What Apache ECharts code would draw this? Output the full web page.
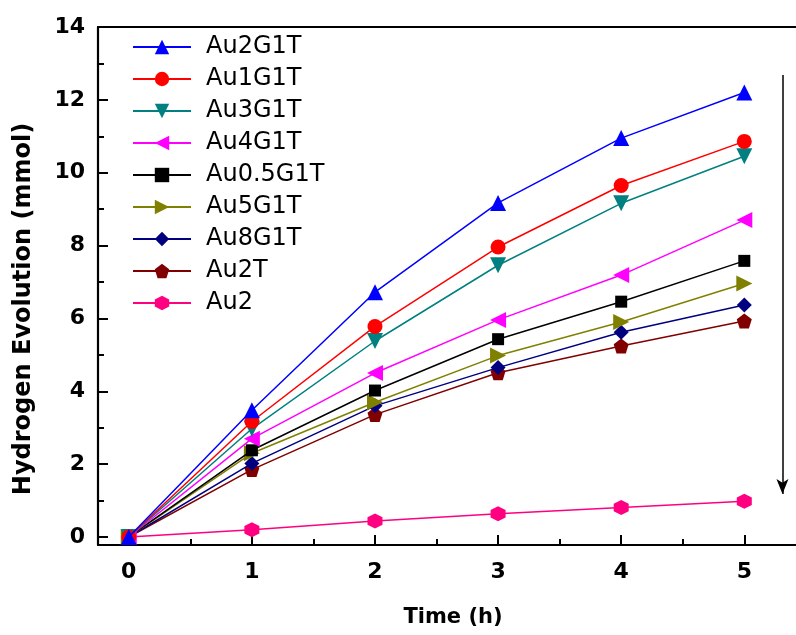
<!DOCTYPE html>
<html>
<head>
<meta charset="utf-8">
<script src="https://cdn.jsdelivr.net/npm/echarts@6/dist/echarts.min.js"></script>
<style>html,body{margin:0;padding:0;background:#fff;}#c{width:796px;height:635px;}</style>
</head>
<body>
<div id="c"></div>
<script>
const times = [0, 1, 2, 3, 4, 5];
const seriesNames = ['Au2G1T','Au1G1T','Au3G1T','Au4G1T','Au0.5G1T','Au5G1T','Au8G1T','Au2T','Au2'];
const au2g1t  = [0, 3.48, 6.72, 9.17, 10.95, 12.2];
const au1g1t  = [0, 3.17, 5.78, 7.96, 9.65, 10.86];
const au3g1t  = [0, 2.97, 5.38, 7.46, 9.16, 10.45];
const au4g1t  = [0, 2.7, 4.5, 5.96, 7.19, 8.7];
const au05g1t = [0, 2.38, 4.02, 5.43, 6.46, 7.58];
const au5g1t  = [0, 2.3, 3.7, 4.98, 5.9, 6.96];
const au8g1t  = [0, 2.02, 3.6, 4.65, 5.62, 6.37];
const au2t    = [0, 1.85, 3.36, 4.51, 5.24, 5.93];
const au2     = [0, 0.2, 0.44, 0.64, 0.81, 0.98];
const yMajor = [0, 2, 4, 6, 8, 10, 12, 14];
const yMinor = [1, 3, 5, 7, 9, 11, 13];
const xMajor = [0, 1, 2, 3, 4, 5];
const xMinor = [0.5, 1.5, 2.5, 3.5, 4.5];
const arrowX = 5.31, arrowTop = 12.68, arrowBottom = 1.18;

const allData = [au2g1t, au1g1t, au3g1t, au4g1t, au05g1t, au5g1t, au8g1t, au2t, au2];
const colors = ['#0000FF','#FF0000','#008080','#FF00FF','#000000','#808000','#000080','#800000','#FF0080'];
const symbols = [
  'path://M0,-1L1,0.8L-1,0.8Z',
  'circle',
  'path://M-1,-0.8L1,-0.8L0,1Z',
  'path://M-0.8,0L1,-1L1,1Z',
  'rect',
  'path://M0.8,0L-1,-1L-1,1Z',
  'diamond',
  'path://M0,-1L0.951,-0.309L0.588,0.809L-0.588,0.809L-0.951,-0.309Z',
  'path://M0,-1L0.866,-0.5L0.866,0.5L0,1L-0.866,0.5L-0.866,-0.5Z'
];
const sizes = [16, 15, 16, 16, 12, 16, 15, 15, 15];

const FONT = '"DejaVu Sans", sans-serif';
const chart = echarts.init(document.getElementById('c'));

const series = seriesNames.map((n, i) => ({
  name: n,
  type: 'line',
  xAxisIndex: 0, yAxisIndex: 0,
  data: times.map((t, k) => [t, allData[i][k]]),
  symbol: symbols[i],
  symbolSize: sizes[i],
  showSymbol: true,
  lineStyle: { color: colors[i], width: 1.5 },
  itemStyle: { color: colors[i] },
  z: 10 - i,
  animation: false
}));
series[0].markLine = {
  silent: true,
  symbol: ['none', 'arrow'],
  symbolSize: [9, 15],
  label: { show: false },
  lineStyle: { color: '#000', width: 1.5, type: 'solid' },
  data: [[{ coord: [arrowX, arrowTop] }, { coord: [arrowX, arrowBottom] }]]
};

const xCommon = { type: 'value', min: -0.25, max: 5.42, splitLine: { show: false }, gridIndex: 0 };
const yCommon = { type: 'value', min: -0.22, max: 14, splitLine: { show: false }, gridIndex: 0 };

chart.setOption({
  animation: false,
  backgroundColor: '#fff',
  grid: { left: 98, top: 27, right: 0, bottom: 90, containLabel: false },
  legend: {
    orient: 'vertical',
    left: 127, top: 30,
    itemWidth: 58, itemHeight: 18,
    itemGap: 8,
    data: seriesNames,
    textStyle: { fontFamily: FONT, fontSize: 24, color: '#000', padding: [0, 0, 0, 10] },
    selectedMode: false
  },
  graphic: [{
    type: 'text',
    x: 24, y: 309,
    rotation: Math.PI / 2,
    style: {
      text: 'Hydrogen Evolution (mmol)',
      font: 'bold 24px "DejaVu Sans", sans-serif',
      fill: '#000',
      align: 'center',
      verticalAlign: 'middle'
    }
  }],
  xAxis: [
    Object.assign({}, xCommon, {
      position: 'bottom',
      name: 'Time (h)', nameLocation: 'middle', nameGap: 62,
      nameTextStyle: { fontFamily: FONT, fontSize: 21, fontWeight: 'bold', color: '#000', padding: [0, 0, 0, 12] },
      axisLine: { show: true, onZero: false, lineStyle: { color: '#000', width: 2.2 } },
      axisTick: { show: true, inside: true, length: 10, customValues: xMajor, lineStyle: { color: '#000', width: 2 } },
      axisLabel: { show: true, customValues: xMajor, margin: 16, fontFamily: FONT, fontSize: 22, fontWeight: 'bold', color: '#000' }
    }),
    Object.assign({}, xCommon, {
      position: 'bottom',
      axisLine: { show: false, onZero: false },
      axisTick: { show: true, inside: true, length: 6, customValues: xMinor, lineStyle: { color: '#000', width: 2 } },
      axisLabel: { show: false }
    }),
    Object.assign({}, xCommon, {
      position: 'top',
      axisLine: { show: true, onZero: false, lineStyle: { color: '#000', width: 2.2 } },
      axisTick: { show: false },
      axisLabel: { show: false }
    })
  ],
  yAxis: [
    Object.assign({}, yCommon, {
      position: 'left',
      axisLine: { show: true, onZero: false, lineStyle: { color: '#000', width: 2.2 } },
      axisTick: { show: true, inside: true, length: 10, customValues: yMajor, lineStyle: { color: '#000', width: 2 } },
      axisLabel: { show: true, customValues: yMajor, margin: 13, fontFamily: FONT, fontSize: 22, fontWeight: 'bold', color: '#000' }
    }),
    Object.assign({}, yCommon, {
      position: 'left',
      axisLine: { show: false, onZero: false },
      axisTick: { show: true, inside: true, length: 6, customValues: yMinor, lineStyle: { color: '#000', width: 2 } },
      axisLabel: { show: false }
    })
  ],
  series: series
});
</script>
</body>
</html>
